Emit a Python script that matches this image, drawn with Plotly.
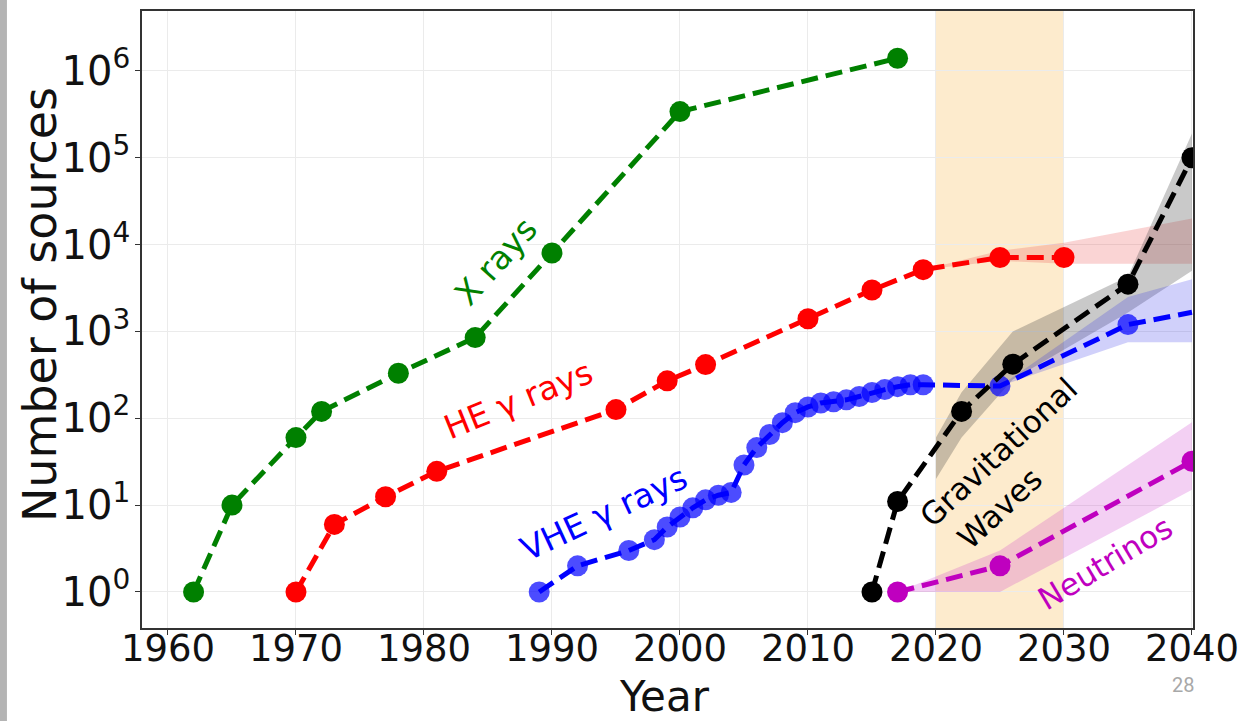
import numpy as np
import plotly.graph_objects as go

# ---------------- data ----------------
xray_years = [1962, 1965, 1970, 1972, 1978, 1984, 1990, 2000, 2017]
xray_counts = [1, 10, 60, 120, 330, 850, 8000, 340000, 1400000]

he_years = [1970, 1973, 1977, 1981, 1995, 1999, 2002, 2010, 2015, 2019, 2025, 2030]
he_counts = [1, 6, 12.5, 24.5, 126, 270, 415, 1400, 3000, 5150, 7100, 7100]
he_band_years = [2019, 2025, 2030, 2040]
he_band_low = [5150, 6500, 6000, 6000]
he_band_high = [5150, 8500, 10500, 20000]

vhe_years = [1989, 1992, 1996, 1998, 1999, 2000, 2001, 2002, 2003, 2004, 2005,
             2006, 2007, 2008, 2009, 2010, 2011, 2012, 2013, 2014, 2015, 2016,
             2017, 2018, 2019, 2025, 2035, 2040]
vhe_counts = [1, 2, 3, 4, 5.6, 7.3, 9.3, 11.5, 13, 14, 29,
              46, 65, 89, 116, 135, 150, 155, 163, 178, 198, 214,
              231, 243, 243, 235, 1200, 1660]
vhe_band_years = [2025, 2035, 2040]
vhe_band_low = [235, 750, 750]
vhe_band_high = [235, 2500, 4000]

gw_years = [2015, 2017, 2022, 2026, 2035, 2040]
gw_counts = [1, 11, 120, 420, 3500, 100000]
gw_band_years = [2020, 2022, 2026, 2035, 2040]
gw_band_low = [20, 60, 280, 1650, 5000]
gw_band_high = [60, 200, 1000, 4300, 190000]

nu_years = [2017, 2025, 2040]
nu_counts = [1, 2, 32]
nu_band_years = [2017, 2025, 2040]
nu_band_low = [1, 1, 15]
nu_band_high = [1, 3, 90]

future_span = [2020, 2030]

x_tick_vals = [1960, 1970, 1980, 1990, 2000, 2010, 2020, 2030, 2040]
x_tick_text = ["1960", "1970", "1980", "1990", "2000", "2010", "2020", "2030", "2040"]
y_tick_vals = [1, 10, 100, 1000, 10000, 100000, 1000000]
y_tick_text = ["10<sup>0</sup>", "10<sup>1</sup>", "10<sup>2</sup>", "10<sup>3</sup>",
               "10<sup>4</sup>", "10<sup>5</sup>", "10<sup>6</sup>"]

GREEN = "#008000"
RED = "#ff0000"
BLUE = "#0000ff"
BLACK = "#000000"
MAGENTA = "#bf00bf"

FONT = "DejaVu Sans"

fig = go.Figure()


def add_band(xs, lo, hi, color):
    fig.add_trace(go.Scatter(
        x=list(xs) + list(xs)[::-1],
        y=list(hi) + list(lo)[::-1],
        mode="lines", fill="toself", fillcolor=color,
        line=dict(width=0), hoverinfo="skip", showlegend=False))


add_band(he_band_years, he_band_low, he_band_high, "rgba(230,60,60,0.22)")
add_band(gw_band_years, gw_band_low, gw_band_high, "rgba(60,60,60,0.28)")
add_band(vhe_band_years, vhe_band_low, vhe_band_high, "rgba(40,40,230,0.22)")
add_band(nu_band_years, nu_band_low, nu_band_high, "rgba(200,40,200,0.22)")

DASH = "17px,8px"
MSIZE = 21


def add_series(xs, ys, color, sizes=MSIZE):
    fig.add_trace(go.Scatter(
        x=xs, y=ys, mode="lines+markers",
        line=dict(color=color, width=5, dash=DASH),
        marker=dict(color=color, size=sizes, line=dict(width=0)),
        showlegend=False))


add_series(xray_years, xray_counts, GREEN)
add_series(he_years, he_counts, RED)
add_series(vhe_years, vhe_counts, BLUE, sizes=[MSIZE] * (len(vhe_years) - 1) + [0])
add_series(gw_years, gw_counts, BLACK)
add_series(nu_years, nu_counts, MAGENTA)

# shaded 2020-2030 band
fig.add_shape(type="rect", xref="x", yref="paper",
              x0=future_span[0], x1=future_span[1], y0=0, y1=1,
              fillcolor="rgba(250,205,130,0.40)", line=dict(width=0), layer="below")

# gray strip at the far left of the picture
fig.add_shape(type="rect", xref="paper", yref="paper",
              x0=-0.1352, x1=-0.1285, y0=-0.16, y1=1.03,
              fillcolor="#b4b4b4", line=dict(width=0), layer="below")


def label(text, year, count, angle, color, size=33):
    fig.add_annotation(x=year, y=np.log10(count), xref="x", yref="y",
                       xanchor="center", yanchor="middle",
                       text=text, textangle=angle, showarrow=False,
                       font=dict(family=FONT, size=size, color=color))


label("X rays", 1985.6, 6400, -48, GREEN)
label("HE \u03b3 rays", 1987.4, 163, -22, RED)
label("VHE \u03b3 rays", 1994.0, 8.1, -25, BLUE)
label("Gravitational", 2024.9, 41, -43, BLACK, size=31)
label("Waves", 2025.0, 9.3, -43, BLACK, size=31)
label("Neutrinos", 2033.2, 2.16, -31, MAGENTA, size=31)

# axis titles and page number
fig.add_annotation(text="Number of sources", xref="paper", yref="paper",
                   x=-0.097, y=0.5235, xanchor="center", yanchor="middle",
                   textangle=-90, showarrow=False,
                   font=dict(family=FONT, size=46, color="#111"))
fig.add_annotation(text="Year", xref="paper", yref="paper",
                   x=0.4976, y=-0.1103, xanchor="center", yanchor="middle",
                   showarrow=False,
                   font=dict(family=FONT, size=42, color="#111"))
fig.add_annotation(text="28", xref="paper", yref="paper",
                   x=0.9905, y=-0.0925, xanchor="center", yanchor="middle",
                   showarrow=False,
                   font=dict(family="Liberation Sans Narrow, Roboto", size=20, color="#a8a8a8"))

fig.update_layout(
    template="none",
    width=1240, height=721, autosize=False,
    margin=dict(l=142, r=47, t=11, b=93, pad=0),
    paper_bgcolor="white", plot_bgcolor="white",
    showlegend=False,
    xaxis=dict(range=[1957.97, 2040.08], tickvals=x_tick_vals, ticktext=x_tick_text,
               automargin=False, ticklabelstandoff=-18,
               showgrid=True, gridcolor="#ebebeb", gridwidth=1, zeroline=False,
               showline=True, linecolor="#333", linewidth=1.5, mirror=True,
               ticks="outside", ticklen=5, tickcolor="#333",
               tickfont=dict(family=FONT, size=37, color="#111")),
    yaxis=dict(type="log", range=[-0.415, 6.69], tickvals=y_tick_vals, ticktext=y_tick_text,
               automargin=False, ticklabelstandoff=-3,
               showgrid=True, gridcolor="#ebebeb", gridwidth=1, zeroline=False,
               showline=True, linecolor="#333", linewidth=1.5, mirror=True,
               ticks="outside", ticklen=5, tickcolor="#333",
               tickfont=dict(family=FONT, size=40, color="#111")),
)

fig.write_html("out.html", config={"displayModeBar": False},
               post_script="document.body.style.margin='0px';")
